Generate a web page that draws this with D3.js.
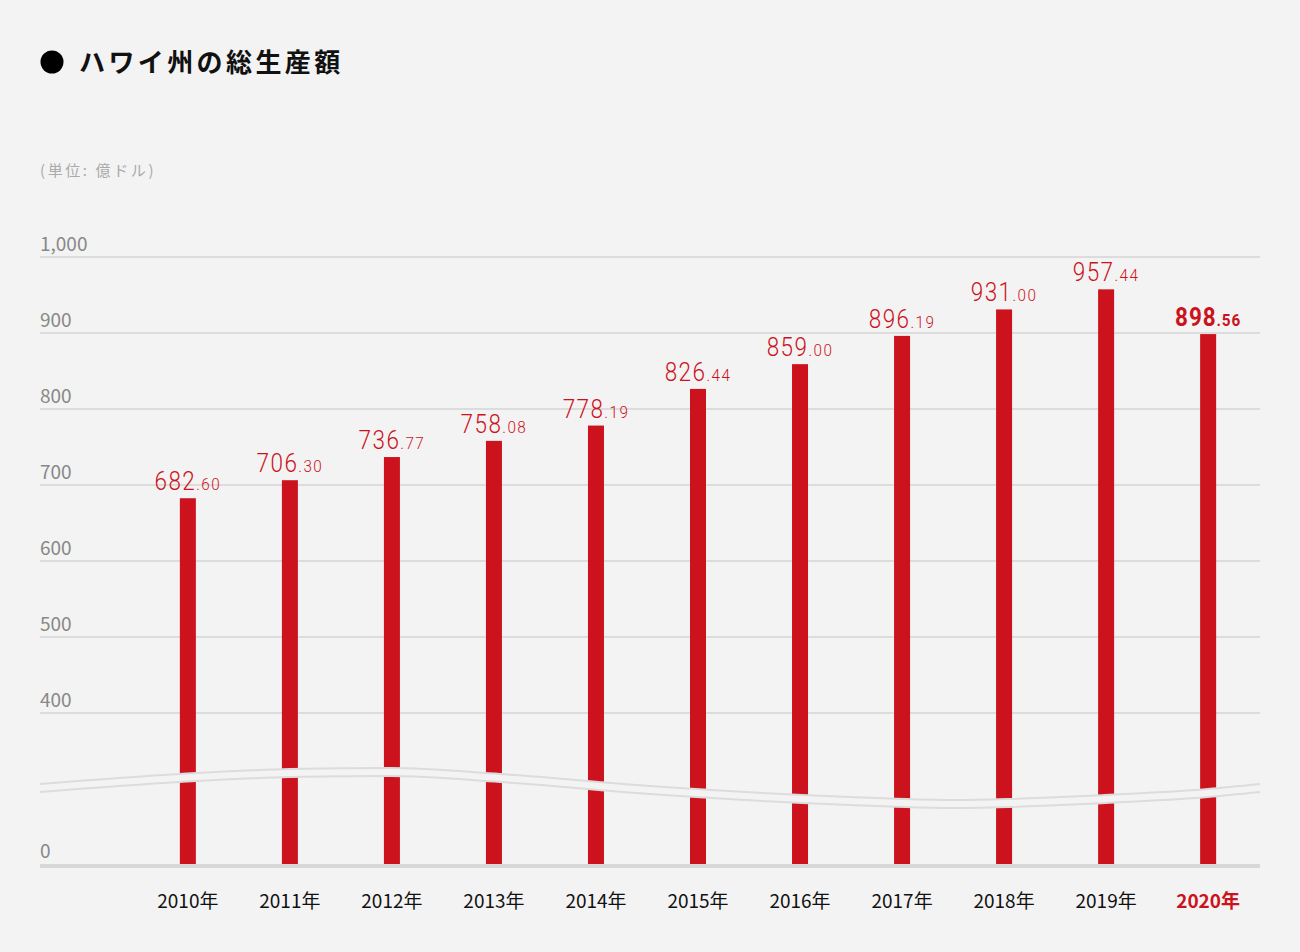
<!DOCTYPE html>
<html><head><meta charset="utf-8">
<script src="https://cdn.jsdelivr.net/npm/d3@7"></script>
<style>
html,body{margin:0;padding:0;background:#f3f3f3;}
svg{display:block;}
</style></head>
<body>
<svg id="c" width="1300" height="952"></svg>
<script>
const title = "ハワイ州の総生産額";
const unitLabel = "(単位: 億ドル)";
const years = ["2010年","2011年","2012年","2013年","2014年","2015年","2016年","2017年","2018年","2019年","2020年"];
const values = [682.60, 706.30, 736.77, 758.08, 778.19, 826.44, 859.00, 896.19, 931.00, 957.44, 898.56];
const yTicks = [0, 400, 500, 600, 700, 800, 900, 1000];
const highlight = "2020年";

const RED = "#cc121c", BG = "#f3f3f3", GRID = "#dcdcdc";
const FONT = "'Noto Sans CJK JP','Noto Sans',sans-serif";
const svg = d3.select("#c");
svg.append("rect").attr("width",1300).attr("height",952).attr("fill",BG);

// title
svg.append("circle").attr("cx",52).attr("cy",62).attr("r",11.5).attr("fill","#000");
svg.append("text").attr("x",79).attr("y",72).text(title)
  .attr("font-family",FONT).attr("font-weight",700).attr("font-size",26)
  .attr("letter-spacing",3.4).attr("fill","#111");
svg.append("text").attr("x",40).attr("y",176).text(unitLabel)
  .attr("font-family",FONT).attr("font-size",15).attr("letter-spacing",2.6).attr("fill","#aaa");

const left = 40, right = 1260;
const x = d3.scaleBand().domain(years).range([137,1259]).paddingInner(0.843).paddingOuter(0.42);
const y = d3.scaleLinear().domain([0,400,1000]).range([864,713,257]);

// grid
const g = svg.append("g");
yTicks.forEach(t=>{
  if(t>0){
    g.append("line").attr("x1",left).attr("x2",right).attr("y1",y(t)).attr("y2",y(t))
      .attr("stroke",GRID).attr("stroke-width",2);
  }
  g.append("text").attr("x",left).attr("y",y(t)-6).text(d3.format(",")(t))
    .attr("font-family",FONT).attr("font-size",19).attr("fill","#888");
});

// bars
const bw = 16;
svg.append("g").selectAll("rect").data(values).join("rect")
  .attr("x",(d,i)=>x(years[i])+x.bandwidth()/2-bw/2)
  .attr("width",bw)
  .attr("y",d=>y(d)).attr("height",d=>y(0)-y(d))
  .attr("fill",RED);

// baseline
svg.append("line").attr("x1",left).attr("x2",right).attr("y1",866).attr("y2",866)
  .attr("stroke","#d8d8d8").attr("stroke-width",4);

// break wave
const waveX = [40,180,290,390,500,650,850,950,1105,1208,1260];
const waveY = [784,774,769,768,774,786,797,800,795,789,784];
const gap = 8;
const pts = waveX.map((d,i)=>[d,waveY[i]]);
const lineGen = d3.line().curve(d3.curveMonotoneX);
const areaGen = d3.area().curve(d3.curveMonotoneX).x(d=>d[0]).y0(d=>d[1]).y1(d=>d[1]+gap);
svg.append("path").attr("d",areaGen(pts)).attr("fill",BG);
svg.append("path").attr("d",lineGen(pts)).attr("fill","none").attr("stroke",GRID).attr("stroke-width",2);
svg.append("path").attr("d",lineGen(pts.map(p=>[p[0],p[1]+gap]))).attr("fill","none").attr("stroke",GRID).attr("stroke-width",2);

// value labels
values.forEach((v,i)=>{
  const cx = x(years[i])+x.bandwidth()/2;
  const hl = years[i]===highlight;
  const parts = v.toFixed(2).split(".");
  const gg = svg.append("g").attr("transform",`translate(${cx},${y(v)-8}) scale(0.9,1)`);
  const t = gg.append("text").attr("text-anchor","middle")
    .attr("font-family","Roboto,'Noto Sans',sans-serif")
    .attr("font-weight",hl?700:300).attr("fill",RED).attr("letter-spacing",hl?1:1.6);
  t.append("tspan").attr("font-size",25).text(parts[0]);
  t.append("tspan").attr("font-size",17).text("."+parts[1]);
});

// x labels
years.forEach(yr=>{
  const hl = yr===highlight;
  svg.append("text").attr("x",x(yr)+x.bandwidth()/2).attr("y",908).attr("text-anchor","middle")
    .text(yr).attr("font-family",FONT).attr("font-size",19)
    .attr("font-weight",hl?700:400).attr("fill",hl?RED:"#111");
});
</script>
</body></html>
